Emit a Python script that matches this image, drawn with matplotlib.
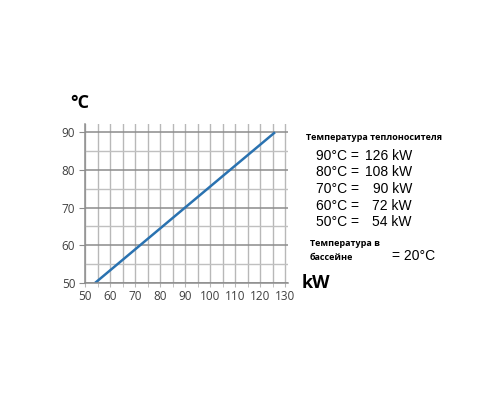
import matplotlib.pyplot as plt
from matplotlib.ticker import MultipleLocator

temps = [50, 60, 70, 80, 90]
power_kw = [54, 72, 90, 108, 126]
table_temps = ['90°C =', '80°C =', '70°C =', '60°C =', '50°C =']
table_kw = ['126 kW', '108 kW', '90 kW', '72 kW', '54 kW']

plt.rcParams['font.family'] = ['Open Sans', 'DejaVu Sans']

fig = plt.figure(figsize=(5, 4), dpi=100)
ax = fig.add_axes([85 / 500, 1 - 283 / 400, 203 / 500, 159 / 400])

ax.plot(power_kw, temps, color='#2a72b0', lw=1.8, solid_capstyle='butt')

ax.set_xlim(50, 131.2)
ax.set_ylim(50, 92.2)
ax.xaxis.set_major_locator(MultipleLocator(10))
ax.xaxis.set_minor_locator(MultipleLocator(5))
ax.yaxis.set_major_locator(MultipleLocator(10))
ax.yaxis.set_minor_locator(MultipleLocator(5))

ax.grid(which='major', axis='y', color='#8c8c8c', lw=1.1)
ax.grid(which='minor', axis='y', color='#c0c0c0', lw=1.0)
ax.grid(which='both', axis='x', color='#b8b8b8', lw=1.0)

for side in ['top', 'right']:
    ax.spines[side].set_visible(False)
for side in ['left', 'bottom']:
    ax.spines[side].set_color('#8c8c8c')
    ax.spines[side].set_linewidth(1.1)

ax.tick_params(which='major', axis='y', length=4, color='#8c8c8c', labelsize=8.5,
               labelcolor='#404040', pad=3)
ax.tick_params(which='minor', axis='y', length=0)
ax.tick_params(which='both', axis='x', length=3, color='#b8b8b8', labelsize=8.5,
               labelcolor='#404040', pad=2)

fig.text(70 / 500, 1 - 103 / 400, '°C', fontsize=13, fontweight='bold', va='center')
fig.text(302 / 500, 1 - 283 / 400, 'kW', fontsize=13, fontweight='bold', va='center')

fig.text(306 / 500, 1 - 138 / 400, 'Температура теплоносителя', fontsize=6.5,
         fontweight='bold', va='center')
for i, (t, k) in enumerate(zip(table_temps, table_kw)):
    y = 1 - (156 + i * 16.5) / 400
    fig.text(316 / 500, y, t, fontsize=10, family='Liberation Sans', va='center')
    fig.text(412 / 500, y, k, fontsize=10, family='Liberation Sans', va='center', ha='right')

fig.text(310 / 500, 1 - 243 / 400, 'Температура в', fontsize=6.5, fontweight='bold', va='center')
fig.text(310 / 500, 1 - 258 / 400, 'бассейне', fontsize=6.5, fontweight='bold', va='center')
fig.text(392 / 500, 1 - 256 / 400, '= 20°C', fontsize=10, family='Liberation Sans', va='center')

fig.savefig('out.png', dpi=100)
